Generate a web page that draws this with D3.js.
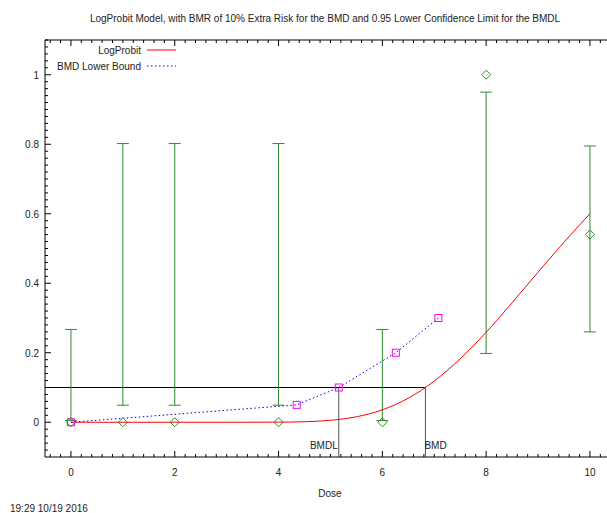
<!DOCTYPE html>
<html><head><meta charset="utf-8">
<script src="https://cdn.jsdelivr.net/npm/d3@7"></script>
<style>body{margin:0;background:#fff}svg{display:block}text{font-family:"Liberation Sans",Arial,sans-serif;font-size:10px;fill:#222}</style>
</head><body>
<svg id="c" width="607" height="513"></svg>
<script>
const title = "LogProbit Model, with BMR of 10% Extra Risk for the BMD and 0.95 Lower Confidence Limit for the BMDL";
const doses = [0, 1, 2, 4, 6, 8, 10];
const observed = [0, 0, 0, 0, 0, 1, 0.54];
const ciLower = [0.005, 0.049, 0.049, 0.049, 0.005, 0.198, 0.26];
const ciUpper = [0.267, 0.802, 0.802, 0.802, 0.267, 0.95, 0.795];
const modelDose = [0, 1, 2, 3, 4, 4.5, 5, 5.5, 6, 6.5, 7, 7.5, 8, 8.5, 9, 9.5, 10];
const modelResp = [0, 0, 0, 0, 0.0003, 0.0015, 0.0056, 0.0157, 0.0357, 0.0693, 0.1184, 0.1827, 0.259, 0.344, 0.432, 0.518, 0.6];
const lbDose = [0, 4.35, 5.16, 6.26, 7.08];
const lbResp = [0, 0.05, 0.1, 0.2, 0.3];
const bmr = 0.1, bmd = 6.83, bmdl = 5.16;
const xTicks = [0, 2, 4, 6, 8, 10];
const yTicks = [0, 0.2, 0.4, 0.6, 0.8, 1];
const timestamp = "19:29 10/19 2016";

const svg = d3.select("#c");
const L = 45, T = 40, B = 457;
const x = d3.scaleLinear().domain([-0.5, 10.5]).range([L, L + 11 * 51.9]);
const y = d3.scaleLinear().domain([-0.1, 1.1]).range([B, T]);
const R = x(10.5);

svg.append("text").attr("x", 325).attr("y", 22).attr("text-anchor", "middle").text(title);

// axes frame
const g = svg.append("g");
g.append("line").attr("x1", L).attr("x2", R).attr("y1", B).attr("y2", B).attr("stroke", "#000");
g.append("line").attr("x1", L).attr("x2", R).attr("y1", T).attr("y2", T).attr("stroke", "#000");
g.append("line").attr("x1", L).attr("x2", L).attr("y1", T).attr("y2", B).attr("stroke", "#000");
g.append("line").attr("x1", R).attr("x2", R).attr("y1", T).attr("y2", B).attr("stroke", "#000");

// x ticks
const xMinor = d3.range(-0.4, 10.5, 0.2);
xMinor.forEach(v => {
  const major = Math.abs(v - Math.round(v / 2) * 2) < 1e-6;
  const len = major ? 6 : 3;
  g.append("line").attr("x1", x(v)).attr("x2", x(v)).attr("y1", B).attr("y2", B - len).attr("stroke", "#000");
  g.append("line").attr("x1", x(v)).attr("x2", x(v)).attr("y1", T).attr("y2", T + len).attr("stroke", "#000");
});
xTicks.forEach(v => {
  g.append("text").attr("x", x(v)).attr("y", B + 19).attr("text-anchor", "middle").text(d3.format("")(v));
});
// y ticks
const yMinor = d3.range(-0.08, 1.1, 0.02);
yMinor.forEach(v => {
  const major = Math.abs(v * 5 - Math.round(v * 5)) < 1e-6;
  const len = major ? 6 : 3;
  g.append("line").attr("x1", L).attr("x2", L + len).attr("y1", y(v)).attr("y2", y(v)).attr("stroke", "#000");
});
yTicks.forEach(v => {
  g.append("text").attr("x", 39).attr("y", y(v) + 4).attr("text-anchor", "end").text(d3.format("")(+v.toFixed(1)));
});

svg.append("text").attr("x", 330).attr("y", 497).attr("text-anchor", "middle").text("Dose");
svg.append("text").attr("x", 10).attr("y", 512).text(timestamp);

// BMR lines
const bl = svg.append("g").attr("stroke", "#000").attr("stroke-width", 1);
bl.append("line").attr("x1", L).attr("x2", x(bmd)).attr("y1", y(bmr)).attr("y2", y(bmr));
bl.append("line").attr("x1", x(bmd)).attr("x2", x(bmd)).attr("y1", y(bmr)).attr("y2", B).attr("stroke", "#555");
bl.append("line").attr("x1", x(bmdl)).attr("x2", x(bmdl)).attr("y1", y(bmr)).attr("y2", B).attr("stroke", "#555");
svg.append("text").attr("x", x(bmdl) - 1).attr("y", B - 8).attr("text-anchor", "end").text("BMDL");
svg.append("text").attr("x", x(bmd) - 1).attr("y", B - 8).text("BMD");

// error bars
const green = "#2e8b2e";
const eb = svg.append("g").attr("stroke", green).attr("stroke-width", 1);
doses.forEach((d, i) => {
  eb.append("line").attr("x1", x(d)).attr("x2", x(d)).attr("y1", y(ciLower[i])).attr("y2", y(ciUpper[i]));
  [ciLower[i], ciUpper[i]].forEach(v => eb.append("line").attr("x1", x(d) - 6).attr("x2", x(d) + 6).attr("y1", y(v)).attr("y2", y(v)));
});

// model curve
const line = d3.line().x(d => x(d[0])).y(d => y(d[1])).curve(d3.curveMonotoneX);
svg.append("path").attr("d", line(modelDose.map((d, i) => [d, modelResp[i]]))).attr("fill", "none").attr("stroke", "#ff0000").attr("stroke-width", 1);

// lower bound
const line2 = d3.line().x(d => x(d[0])).y(d => y(d[1]));
svg.append("path").attr("d", line2(lbDose.map((d, i) => [d, lbResp[i]]))).attr("fill", "none").attr("stroke", "#0000ff").attr("stroke-width", 1).attr("stroke-dasharray", "1.5,2.5");
lbDose.forEach((d, i) => {
  svg.append("rect").attr("x", x(d) - 3.5).attr("y", y(lbResp[i]) - 3.5).attr("width", 7).attr("height", 7).attr("fill", "none").attr("stroke", "#ff00ff");
});

// observed diamonds
doses.forEach((d, i) => {
  const cx = x(d), cy = y(observed[i]), r = 4.5;
  svg.append("path").attr("d", `M${cx},${cy - r}L${cx + r},${cy}L${cx},${cy + r}L${cx - r},${cy}Z`).attr("fill", "none").attr("stroke", green);
});

// legend
const lg = svg.append("g");
lg.append("text").attr("x", 141).attr("y", 54).attr("text-anchor", "end").text("LogProbit");
lg.append("line").attr("x1", 147).attr("x2", 176).attr("y1", 50).attr("y2", 50).attr("stroke", "#ff0000");
lg.append("text").attr("x", 141).attr("y", 70).attr("text-anchor", "end").text("BMD Lower Bound");
lg.append("line").attr("x1", 147).attr("x2", 176).attr("y1", 66).attr("y2", 66).attr("stroke", "#0000ff").attr("stroke-dasharray", "1.5,2.5");
</script>
</body></html>
